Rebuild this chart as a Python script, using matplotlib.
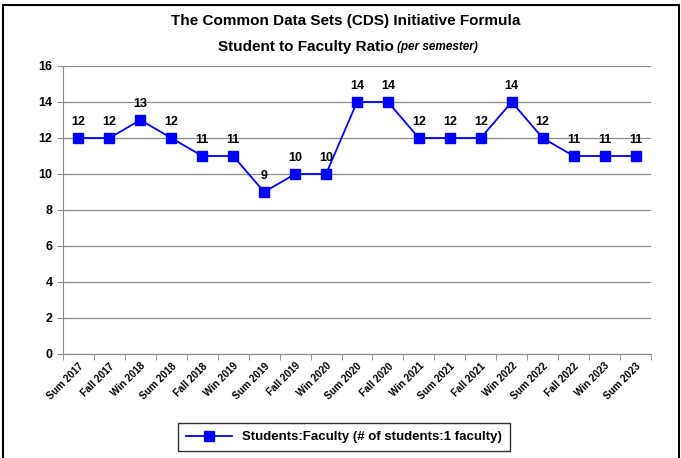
"""Student to faculty ratio per semester (CDS formula)."""

import matplotlib

matplotlib.use("Agg")
from matplotlib import pyplot as plt
from matplotlib.patches import Rectangle
import numpy as np

semesters = [
    "Sum 2017", "Fall 2017", "Win 2018", "Sum 2018", "Fall 2018", "Win 2019",
    "Sum 2019", "Fall 2019", "Win 2020", "Sum 2020", "Fall 2020", "Win 2021",
    "Sum 2021", "Fall 2021", "Win 2022", "Sum 2022", "Fall 2022", "Win 2023",
    "Sum 2023",
]
ratio = [12, 12, 13, 12, 11, 11, 9, 10, 10, 14, 14, 12, 12, 12, 14, 12, 11, 11, 11]
y_ticks = [0, 2, 4, 6, 8, 10, 12, 14, 16]

plt.rcParams["font.family"] = ["Liberation Sans Narrow", "Liberation Sans", "DejaVu Sans"]
plt.rcParams["font.weight"] = "bold"

W, H = 681, 458
fig = plt.figure(figsize=(W / 100, H / 100), dpi=100)
fig.patches.append(
    Rectangle((3 / W, -0.01), (W - 5) / W, 1.0 - 5 / H + 0.01,
              transform=fig.transFigure, fill=False, edgecolor="black",
              linewidth=1.5)
)

ax = fig.add_axes([63 / W, 1 - 354 / H, (651 - 63) / W, (354 - 66) / H])
x = np.arange(len(semesters))
line, = ax.plot(x, ratio, color="#0000ff", marker="s", markersize=6.5,
                linewidth=1.3, label="Students:Faculty (# of students:1 faculty)")
for xi, yi in zip(x, ratio):
    ax.annotate(str(yi), (xi, yi), xytext=(0, 7), textcoords="offset points",
                ha="center", va="bottom", fontsize=9, fontweight="bold")

ax.set_xlim(-0.5, len(semesters) - 0.5)
ax.set_ylim(0, 16)
ax.set_yticks(y_ticks)
ax.set_yticklabels([str(v) for v in y_ticks], fontsize=9, fontweight="bold")
ax.set_xticks(x)
ax.set_xticklabels(semesters, rotation=45, ha="right", rotation_mode="anchor",
                   fontsize=7.2, fontweight="bold")
ax.set_xticks(np.arange(-0.5, len(semesters)), minor=True)
ax.tick_params(axis="x", which="major", length=0, pad=5)
ax.tick_params(axis="x", which="minor", length=4, color="#888888")
ax.tick_params(axis="y", length=4, color="#888888")
ax.grid(True, axis="y", color="#8c8c8c", linewidth=0.9)
ax.set_axisbelow(True)
for side in ("top", "right"):
    ax.spines[side].set_visible(False)
for side in ("left", "bottom"):
    ax.spines[side].set_color("#888888")

fig.text(0.507, 1 - 21 / H, "The Common Data Sets (CDS) Initiative Formula",
         ha="center", va="center", fontsize=11, fontweight="bold")
fig.text(394 / W, 1 - 47 / H, "Student to Faculty Ratio", ha="right",
         va="center", fontsize=11, fontweight="bold")
fig.text(397 / W, 1 - 47 / H, "(per semester)", ha="left", va="center",
         fontsize=8.5, fontweight="bold", style="italic")

fig.legend(handles=[line], loc="center", bbox_to_anchor=(344 / W, 1 - 437 / H),
           frameon=True, fancybox=False, edgecolor="black", fontsize=9.5,
           handlelength=3.5, borderpad=0.6, borderaxespad=0.0,
           ).get_frame().set_linewidth(1.0)

fig.savefig("out.png", dpi=100)
